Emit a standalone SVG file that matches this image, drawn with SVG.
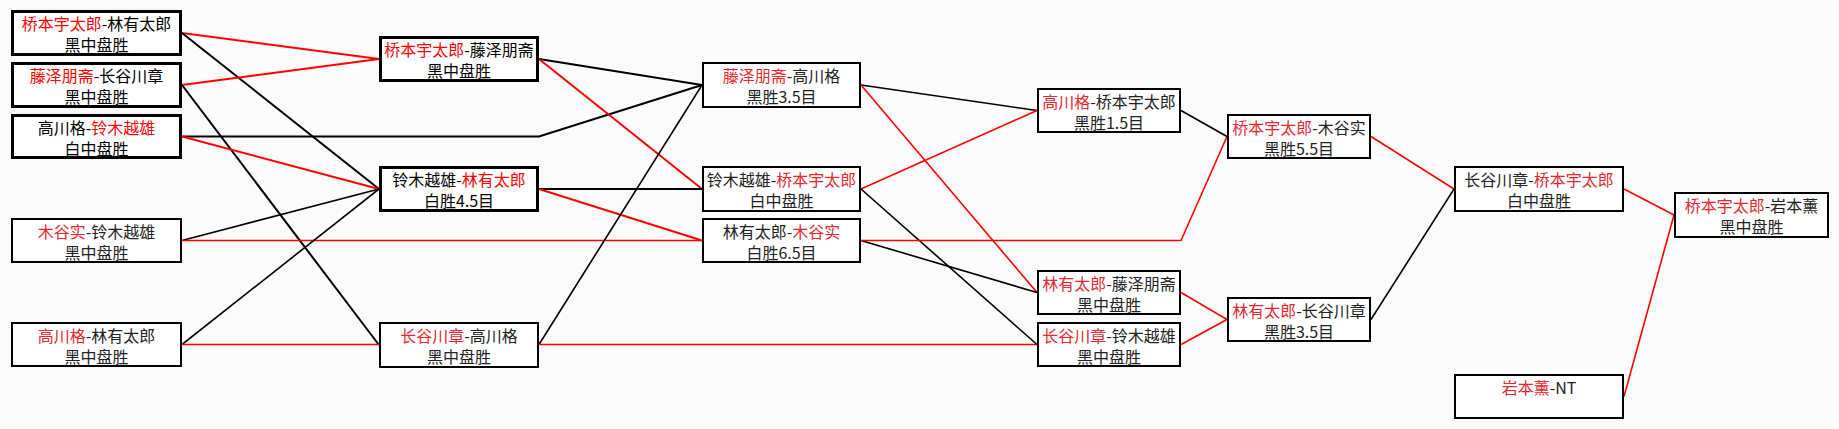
<svg xmlns="http://www.w3.org/2000/svg" width="1839" height="429" viewBox="0 0 1839 429">
<style>
  .bg { fill: #fbfbfb; }
  .box { fill: #ffffff; stroke: #000; }
  .thick { stroke-width: 3; }
  .thin { stroke-width: 2; }
  .t { font-family: "Noto Sans CJK SC", "Liberation Sans", sans-serif; font-size: 16px; text-anchor: middle; fill: #000; }
  .tl { fill: #222; }
  .r { fill: #ff0000; }
  .rl { fill: #e8262e; }
  .cb { fill: none; stroke: #000; stroke-width: 2; }
  .cr { fill: none; stroke: #ff0000; stroke-width: 2; }
  .cbt { fill: none; stroke: #000; stroke-width: 1.6; }
  .crt { fill: none; stroke: #ff0000; stroke-width: 1.6; }
</style>
<rect class="bg" x="0" y="0" width="1839" height="429"/>
<g id="connectors">
  <line class="cr" x1="182" y1="33" x2="379" y2="59"/>
  <line class="cb" x1="182" y1="33" x2="379" y2="189"/>
  <line class="cr" x1="182" y1="85" x2="379" y2="59"/>
  <line class="cb" x1="182" y1="85" x2="379" y2="345"/>
  <polyline class="cb" points="182,136.5 539,136.5 702,85"/>
  <line class="cr" x1="182" y1="136.5" x2="379" y2="189"/>
  <line class="cbt" x1="182" y1="240.5" x2="379" y2="189"/>
  <line class="crt" x1="182" y1="240.5" x2="702" y2="240.5"/>
  <line class="cbt" x1="182" y1="344.5" x2="379" y2="189"/>
  <line class="crt" x1="182" y1="344.5" x2="379" y2="344.5"/>
  <line class="cb" x1="539" y1="59" x2="702" y2="85"/>
  <line class="cr" x1="539" y1="59" x2="702" y2="189"/>
  <line class="cb" x1="539" y1="189" x2="702" y2="189"/>
  <line class="cr" x1="539" y1="189" x2="702" y2="240.5"/>
  <line class="cbt" x1="539" y1="344.5" x2="702" y2="85"/>
  <line class="crt" x1="539" y1="344.5" x2="1037" y2="344.5"/>
  <line class="cbt" x1="861" y1="85" x2="1037" y2="110.5"/>
  <line class="crt" x1="861" y1="85" x2="1037" y2="292.5"/>
  <line class="crt" x1="861" y1="189" x2="1037" y2="110.5"/>
  <line class="cbt" x1="861" y1="189" x2="1037" y2="344.5"/>
  <line class="cbt" x1="861" y1="240.5" x2="1037" y2="292.5"/>
  <polyline class="crt" points="861,240.5 1181,240.5 1227,136.5"/>
  <line class="cbt" x1="1181" y1="110.5" x2="1227" y2="136.5"/>
  <line class="crt" x1="1181" y1="292.5" x2="1227" y2="319.5"/>
  <line class="crt" x1="1181" y1="344.5" x2="1227" y2="319.5"/>
  <line class="crt" x1="1371" y1="136.5" x2="1454" y2="189"/>
  <line class="cbt" x1="1371" y1="319.5" x2="1454" y2="189"/>
  <line class="crt" x1="1624" y1="189" x2="1674" y2="215"/>
  <line class="crt" x1="1624" y1="396.5" x2="1674" y2="215"/>
</g>
<g id="n1">
  <rect class="box thick" x="12.5" y="11.5" width="168" height="43"/>
  <text class="t" x="96.5" y="30"><tspan class="r">桥本宇太郎</tspan>-林有太郎</text>
  <text class="t" x="96.5" y="51">黑中盘胜</text>
</g>
<g id="n2">
  <rect class="box thick" x="12.5" y="63.5" width="168" height="43"/>
  <text class="t" x="96.5" y="82"><tspan class="r">藤泽朋斋</tspan>-长谷川章</text>
  <text class="t" x="96.5" y="103">黑中盘胜</text>
</g>
<g id="n3">
  <rect class="box thick" x="12.5" y="115.5" width="168" height="42"/>
  <text class="t" x="96.5" y="134">高川格-<tspan class="r">铃木越雄</tspan></text>
  <text class="t" x="96.5" y="155">白中盘胜</text>
</g>
<g id="n4">
  <rect class="box thin" x="12" y="219" width="169" height="43"/>
  <text class="t tl" x="96.5" y="238"><tspan class="rl">木谷实</tspan>-铃木越雄</text>
  <text class="t tl" x="96.5" y="259">黑中盘胜</text>
</g>
<g id="n5">
  <rect class="box thin" x="12" y="323" width="169" height="43"/>
  <text class="t tl" x="96.5" y="342"><tspan class="rl">高川格</tspan>-林有太郎</text>
  <text class="t tl" x="96.5" y="363">黑中盘胜</text>
</g>
<g id="n6">
  <rect class="box thick" x="380.5" y="37.5" width="157" height="43"/>
  <text class="t" x="459" y="56"><tspan class="r">桥本宇太郎</tspan>-藤泽朋斋</text>
  <text class="t" x="459" y="77">黑中盘胜</text>
</g>
<g id="n7">
  <rect class="box thick" x="380.5" y="167.5" width="157" height="43"/>
  <text class="t" x="459" y="186">铃木越雄-<tspan class="r">林有太郎</tspan></text>
  <text class="t" x="459" y="207">白胜4.5目</text>
</g>
<g id="n8">
  <rect class="box thin" x="380" y="323" width="158" height="44"/>
  <text class="t tl" x="459" y="342"><tspan class="rl">长谷川章</tspan>-高川格</text>
  <text class="t tl" x="459" y="363">黑中盘胜</text>
</g>
<g id="n9">
  <rect class="box thin" x="703" y="63" width="157" height="44"/>
  <text class="t tl" x="781.5" y="82"><tspan class="rl">藤泽朋斋</tspan>-高川格</text>
  <text class="t tl" x="781.5" y="103">黑胜3.5目</text>
</g>
<g id="n10">
  <rect class="box thin" x="703" y="167" width="157" height="44"/>
  <text class="t tl" x="781.5" y="186">铃木越雄-<tspan class="rl">桥本宇太郎</tspan></text>
  <text class="t tl" x="781.5" y="207">白中盘胜</text>
</g>
<g id="n11">
  <rect class="box thin" x="703" y="219" width="157" height="43"/>
  <text class="t tl" x="781.5" y="238">林有太郎-<tspan class="rl">木谷实</tspan></text>
  <text class="t tl" x="781.5" y="259">白胜6.5目</text>
</g>
<g id="n12">
  <rect class="box thin" x="1038" y="89" width="142" height="43"/>
  <text class="t tl" x="1109" y="108"><tspan class="rl">高川格</tspan>-桥本宇太郎</text>
  <text class="t tl" x="1109" y="129">黑胜1.5目</text>
</g>
<g id="n13">
  <rect class="box thin" x="1038" y="271" width="142" height="43"/>
  <text class="t tl" x="1109" y="290"><tspan class="rl">林有太郎</tspan>-藤泽朋斋</text>
  <text class="t tl" x="1109" y="311">黑中盘胜</text>
</g>
<g id="n14">
  <rect class="box thin" x="1038" y="323" width="142" height="43"/>
  <text class="t tl" x="1109" y="342"><tspan class="rl">长谷川章</tspan>-铃木越雄</text>
  <text class="t tl" x="1109" y="363">黑中盘胜</text>
</g>
<g id="n15">
  <rect class="box thin" x="1228" y="115" width="142" height="43"/>
  <text class="t tl" x="1299" y="134"><tspan class="rl">桥本宇太郎</tspan>-木谷实</text>
  <text class="t tl" x="1299" y="155">黑胜5.5目</text>
</g>
<g id="n16">
  <rect class="box thin" x="1228" y="298" width="142" height="43"/>
  <text class="t tl" x="1299" y="317"><tspan class="rl">林有太郎</tspan>-长谷川章</text>
  <text class="t tl" x="1299" y="338">黑胜3.5目</text>
</g>
<g id="n17">
  <rect class="box thin" x="1455" y="167" width="168" height="44"/>
  <text class="t tl" x="1539" y="186">长谷川章-<tspan class="rl">桥本宇太郎</tspan></text>
  <text class="t tl" x="1539" y="207">白中盘胜</text>
</g>
<g id="n18">
  <rect class="box thin" x="1455" y="375" width="168" height="43"/>
  <text class="t tl" x="1539" y="394"><tspan class="rl">岩本薰</tspan>-NT</text>
</g>
<g id="n19">
  <rect class="box thin" x="1675" y="193" width="153" height="44"/>
  <text class="t tl" x="1751.5" y="212"><tspan class="rl">桥本宇太郎</tspan>-岩本薰</text>
  <text class="t tl" x="1751.5" y="233">黑中盘胜</text>
</g>
</svg>
